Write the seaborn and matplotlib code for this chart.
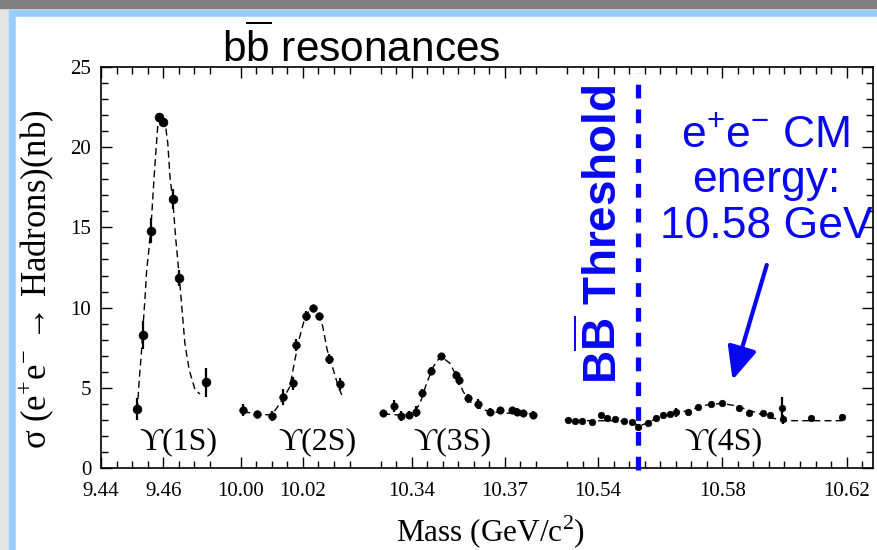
import numpy as np
import pandas as pd
import seaborn as sns
import matplotlib
matplotlib.use("Agg")
import matplotlib.pyplot as plt
from matplotlib.patches import Rectangle

# ---------------- data ----------------
# Upsilon(1S) scan
m1 = [9.4517, 9.4534, 9.4560, 9.4588, 9.4600, 9.4633, 9.4650, 9.4738]
s1 = [3.68, 8.29, 14.80, 21.90, 21.60, 16.77, 11.86, 5.34]
e1 = [0.7, 0.9, 0.8, 0.25, 0.25, 0.6, 0.5, 0.9]
# Upsilon(2S) scan
m2 = [10.0006, 10.0051, 10.0099, 10.0137, 10.0169, 10.0178, 10.0210, 10.0233,
      10.0253, 10.0284, 10.0319]
s2 = [3.62, 3.37, 3.24, 4.41, 5.28, 7.67, 9.48, 9.96, 9.48, 6.80, 5.24]
e2 = [0.35, 0.2, 0.3, 0.5, 0.4, 0.35, 0.3, 0.15, 0.2, 0.3, 0.35]
# Upsilon(3S) scan
m3 = [10.3309, 10.3343, 10.3365, 10.3392, 10.3414, 10.3432, 10.3461, 10.3493,
      10.3543, 10.3553, 10.3582, 10.3614, 10.3652, 10.3684, 10.3722, 10.3738,
      10.3757, 10.3789]
s3 = [3.41, 3.87, 3.24, 3.30, 3.51, 4.70, 6.07, 6.98, 5.80, 5.49, 4.34, 3.99,
      3.51, 3.62, 3.62, 3.51, 3.41, 3.30]
e3 = [0.2, 0.35, 0.3, 0.25, 0.35, 0.25, 0.25, 0.2, 0.25, 0.3, 0.3, 0.3, 0.2,
      0.2, 0.2, 0.2, 0.15, 0.25]
# Upsilon(4S) scan
m4 = [10.5304, 10.5326, 10.5347, 10.5379, 10.5411, 10.5430, 10.5454, 10.5483,
      10.5508, 10.5529, 10.5561, 10.5588, 10.5610, 10.5631, 10.5651, 10.5690,
      10.5722, 10.5765, 10.5798, 10.5855, 10.5886, 10.5932, 10.5953, 10.5991,
      10.5996, 10.6087, 10.6184]
s4 = [2.99, 2.95, 2.95, 2.87, 3.30, 3.10, 3.03, 2.93, 2.89, 2.58, 2.83, 3.10,
      3.30, 3.37, 3.47, 3.51, 3.78, 3.99, 4.03, 3.72, 3.45, 3.41, 3.30, 3.72,
      3.03, 3.10, 3.20]
e4 = [0.12, 0.12, 0.12, 0.12, 0.15, 0.15, 0.12, 0.12, 0.12, 0.15, 0.15, 0.15,
      0.15, 0.15, 0.3, 0.15, 0.15, 0.15, 0.12, 0.15, 0.15, 0.12, 0.15, 0.7,
      0.3, 0.15, 0.15]

# fitted line shapes
c1_m = [9.4517, 9.4523, 9.4530, 9.4536, 9.4542, 9.4547, 9.4554, 9.4563, 9.4571,
        9.4577, 9.4584, 9.4592, 9.4606, 9.4615, 9.4622, 9.4631, 9.4641, 9.4652,
        9.4660, 9.4670, 9.4684, 9.4703, 9.4719]
c1_s = [3.62, 5.49, 7.15, 9.02, 10.68, 12.34, 13.59, 15.67, 18.16, 19.83, 21.70,
        22.0, 21.6, 20.24, 18.16, 16.7, 14.2, 11.93, 10.06, 7.77, 6.11, 4.86, 4.61]
c2_m = [10.0008, 10.0051, 10.0099, 10.0115, 10.0137, 10.0158, 10.0174, 10.0190,
        10.0207, 10.0228, 10.0246, 10.0264, 10.0278, 10.0298, 10.0314, 10.0325]
c2_s = [3.51, 3.37, 3.30, 3.72, 4.34, 5.07, 6.73, 8.19, 9.43, 10.02, 9.85, 8.81,
        7.36, 6.11, 5.07, 4.55]
c3_m = [10.3309, 10.3362, 10.3405, 10.3427, 10.3448, 10.3470, 10.3493, 10.3523,
        10.3545, 10.3566, 10.3588, 10.3620, 10.3652, 10.3716, 10.3791]
c3_s = [3.37, 3.30, 3.37, 4.03, 5.28, 6.32, 6.98, 6.53, 5.69, 4.76, 4.13, 3.72,
        3.51, 3.41, 3.37]
c4_m = [10.5293, 10.5374, 10.5460, 10.5513, 10.5533, 10.5556, 10.5589, 10.5631,
        10.5696, 10.5749, 10.5798, 10.5846, 10.5900, 10.5953, 10.5996, 10.6060,
        10.6189]
c4_s = [2.99, 2.95, 2.95, 2.83, 2.62, 2.79, 3.10, 3.30, 3.62, 3.93, 4.03, 3.87,
        3.51, 3.16, 2.95, 2.95, 2.95]

peak_names = ["ϒ(1S)", "ϒ(2S)", "ϒ(3S)", "ϒ(4S)"]
peak_label_mass = [9.4648, 10.0248, 10.3530, 10.5802]
threshold_mass = 10.5527
cm_energy_mass = 10.5833
major_tick_mass = [9.44, 9.46, 10.00, 10.02, 10.34, 10.37, 10.54, 10.58, 10.62]
major_tick_labels = ["9.44", "9.46", "10.00", "10.02", "10.34", "10.37",
                     "10.54", "10.58", "10.62"]

# broken mass axis: (low, high, shift) -> plotted position = mass - shift
segments = [(9.44, 9.476, 0.0), (10.00, 10.036, 0.515),
            (10.33, 10.381, 0.80), (10.53, 10.63, 0.94)]


def pos(m):
    m = np.atleast_1d(np.asarray(m, dtype=float))
    out = np.empty_like(m)
    for i, v in enumerate(m):
        for lo, hi, sh in segments:
            if lo - 0.003 <= v <= hi + 0.003:
                out[i] = v - sh
                break
    return out


# ---------------- styling ----------------
sns.set_theme(style="white")
plt.rcParams["font.family"] = ["Liberation Serif", "DejaVu Serif"]
plt.rcParams["mathtext.fontset"] = "custom"
plt.rcParams["mathtext.rm"] = "Liberation Serif"
plt.rcParams["mathtext.sf"] = "Liberation Sans"
plt.rcParams["mathtext.bf"] = "Liberation Sans:bold"
plt.rcParams["text.color"] = "black"
plt.rcParams["axes.labelcolor"] = "black"
plt.rcParams["xtick.color"] = "black"
plt.rcParams["ytick.color"] = "black"

BLUE = "#0808f0"
W, H = 878, 550
fig = plt.figure(figsize=(W / 100, H / 100), dpi=100)
fig.patch.set_facecolor("#e4e4e4")

# slide frame
fig.add_artist(Rectangle((0, 1 - 8 / H), 1, 8 / H, transform=fig.transFigure,
                         color="#808080", zorder=-10))
fig.add_artist(Rectangle((9 / W, 0), 1, 1 - 10 / H, transform=fig.transFigure,
                         color="#99ccff", zorder=-9))
fig.add_artist(Rectangle((16 / W, 0), 1, 1 - 17 / H, transform=fig.transFigure,
                         color="white", zorder=-8))

ax = fig.add_axes([101 / W, 82 / H, 772 / W, 401 / H])
ax.set_facecolor("white")

# curves
for cm, cs in [(c1_m, c1_s), (c2_m, c2_s), (c3_m, c3_s), (c4_m, c4_s)]:
    df = pd.DataFrame({"pos": pos(cm), "sigma": cs})
    sns.lineplot(data=df, x="pos", y="sigma", ax=ax, color="black", lw=1.0,
                 sort=False, estimator=None, linestyle=(0, (5, 3)), zorder=2)

# data points with error bars
for mm, ss, ee, sz in [(m1, s1, e1, 40), (m2, s2, e2, 30), (m3, s3, e3, 28),
                       (m4, s4, e4, 22)]:
    df = pd.DataFrame({"pos": pos(mm), "sigma": ss, "err": ee})
    ax.errorbar(df["pos"], df["sigma"], yerr=df["err"], fmt="none",
                ecolor="black", elinewidth=1.6, capsize=0, zorder=3)
    sns.scatterplot(data=df, x="pos", y="sigma", ax=ax, color="black", s=sz,
                    edgecolor="black", linewidth=0.5, zorder=4, legend=False)

# axes
ax.set_xlim(9.44, 10.6285 - 0.94)
ax.set_ylim(0, 25)
minor = np.concatenate([np.round(np.arange(lo, hi + 1e-9, 0.005), 3) - sh
                        for lo, hi, sh in segments[:3]] +
                       [np.round(np.arange(10.53, 10.6251, 0.005), 3) - 0.94])
ax.set_xticks(pos(major_tick_mass))
ax.set_xticklabels(major_tick_labels)
ax.set_xticks(minor, minor=True)
ax.set_yticks([0, 5, 10, 15, 20, 25])
ax.set_yticks(np.arange(0, 26, 1), minor=True)
ax.tick_params(which="both", direction="in", top=True, right=True,
               bottom=True, left=True, colors="black", width=1.0)
ax.tick_params(which="major", length=8, labelsize=15)
ax.tick_params(axis="x", which="major", pad=10)
ax.tick_params(axis="y", which="major", pad=7)
ax.tick_params(which="minor", length=5)
for sp in ax.spines.values():
    sp.set_color("black")
    sp.set_linewidth(1.2)

ax.set_xlabel("Mass (GeV/c$^{2}$)", fontsize=22.5)
ax.xaxis.set_label_coords(0.504, -0.115)
ax.set_ylabel("σ (e$^{+}$e$^{-}$ → Hadrons)(nb)", fontsize=25)
ax.yaxis.set_label_coords(-0.058, 0.47)

# peak labels
for name, mx in zip(peak_names, peak_label_mass):
    ax.text(pos(mx)[0], 1.62, name, ha="center", va="center", fontsize=23,
            family=["Liberation Serif", "DejaVu Serif"])

# title
ax.text(0.337, 1.012, r"$\mathsf{b\overline{b}}$ resonances",
        transform=ax.transAxes, ha="center", va="baseline", fontsize=30.5,
        family="Liberation Sans")

# threshold line and label
tx = pos(threshold_mass)[0]
ax.plot([tx, tx], [-0.15, 24.6], color=BLUE, lw=3.8,
        linestyle=(0, (2.6, 2.1)), clip_on=False, zorder=5)
ax.text(pos(10.5416)[0], 14.6, r"$\mathbf{B\overline{B}}$ Threshold",
        rotation=90, ha="center", va="center", color=BLUE, fontsize=33,
        fontweight="bold", family="Liberation Sans")

# CM energy note + arrow
ax.text(pos(10.5940)[0], 17.9,
        "e$^{\\mathsf{+}}$e$^{\\mathsf{-}}$ CM\nenergy:\n10.58 GeV",
        ha="center", va="center", color=BLUE, fontsize=32,
        family="Liberation Sans", linespacing=1.15, multialignment="center")
ax.annotate("", xy=(pos(cm_energy_mass)[0], 5.49),
            xytext=(pos(10.5943)[0], 12.66),
            arrowprops=dict(arrowstyle="-|>,head_length=1.0,head_width=0.45",
                            mutation_scale=20, color=BLUE, lw=3,
                            shrinkA=0, shrinkB=0))

fig.savefig("out.png", dpi=100, facecolor=fig.get_facecolor())
